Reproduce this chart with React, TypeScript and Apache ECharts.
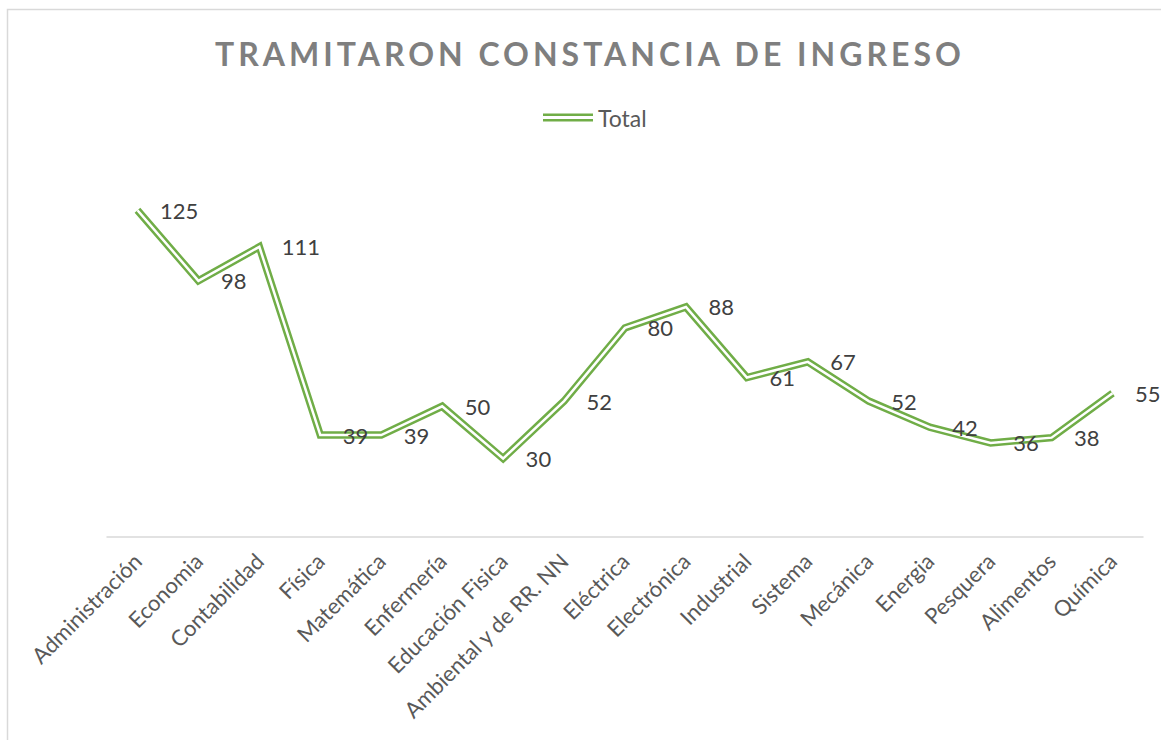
import React, { useEffect, useRef } from "react";
import * as echarts from "echarts";

const categories = [
  "Administración", "Economia", "Contabilidad", "Física", "Matemática", "Enfermería",
  "Educación Fisica", "Ambiental y de RR. NN", "Eléctrica", "Electrónica", "Industrial",
  "Sistema", "Mecánica", "Energia", "Pesquera", "Alimentos", "Química",
];
const totals = [125, 98, 111, 39, 39, 50, 30, 52, 80, 88, 61, 67, 52, 42, 36, 38, 55];
const titleText = "TRAMITARON CONSTANCIA DE INGRESO";
const seriesName = "Total";

const GREEN = "#70ad47";
const FONT = "Lato, 'Open Sans', sans-serif";

export default function App() {
  const ref = useRef<HTMLDivElement>(null);
  useEffect(() => {
    if (!ref.current) return;
    const chart = echarts.init(ref.current, undefined, { renderer: "svg" });
    chart.setOption({
      animation: false,
      backgroundColor: "#fff",
      textStyle: { fontFamily: FONT },
      title: {
        text: titleText,
        left: 210,
        top: 32,
        textStyle: { fontFamily: FONT, fontSize: 32, fontWeight: "bold", color: "#7f7f7f" },
      },
      legend: {
        data: [seriesName],
        top: 101,
        left: 538,
        icon: "path://M0,0H50V2.5H0ZM0,5.5H50V8H0Z",
        itemWidth: 50,
        itemHeight: 8,
        itemGap: 8,
        textStyle: { fontFamily: FONT, fontSize: 23, color: "#595959" },
      },
      graphic: [
        {
          type: "rect",
          shape: { x: 7.5, y: 9.5, width: 1300, height: 900 },
          style: { fill: "none", stroke: "#d9d9d9", lineWidth: 1.5 },
          silent: true,
        },
      ],
      grid: { left: 107, right: 18, top: 171, bottom: 203, containLabel: false },
      xAxis: {
        type: "category",
        data: categories,
        boundaryGap: true,
        axisLine: { lineStyle: { color: "#d9d9d9", width: 1.5 } },
        axisTick: { show: false },
        axisLabel: {
          rotate: 45,
          interval: 0,
          margin: 20,
          fontFamily: FONT,
          fontSize: 22,
          color: "#595959",
        },
      },
      yAxis: {
        type: "value",
        min: 0,
        max: 140,
        interval: 20,
        show: false,
        splitLine: { show: false },
      },
      series: [
        {
          name: seriesName,
          type: "line",
          data: totals,
          color: GREEN,
          symbol: "none",
          lineStyle: { color: GREEN, width: 7.5, join: "miter", cap: "butt" },
          z: 2,
        },
        {
          name: "_inner",
          type: "line",
          data: totals,
          color: "#ffffff",
          symbol: "circle",
          symbolSize: 1,
          showSymbol: true,
          showAllSymbol: true,
          itemStyle: { color: "rgba(255,255,255,0)", borderWidth: 0 },
          lineStyle: { color: "#ffffff", width: 2.5, join: "miter", cap: "butt" },
          z: 3,
          label: {
            show: true,
            position: "right",
            distance: 22,
            fontFamily: FONT,
            fontSize: 22,
            color: "#404040",
          },
        },
      ],
    });
    const texts = ref.current.querySelectorAll("text");
    texts.forEach((t) => {
      if (t.textContent === titleText) {
        t.setAttribute("letter-spacing", "4");
        t.style.letterSpacing = "4px";
      }
    });
    return () => chart.dispose();
  }, []);
  return (
    <div
      ref={ref}
      style={{ position: "fixed", left: 0, top: 0, width: 1161, height: 740 }}
    />
  );
}
